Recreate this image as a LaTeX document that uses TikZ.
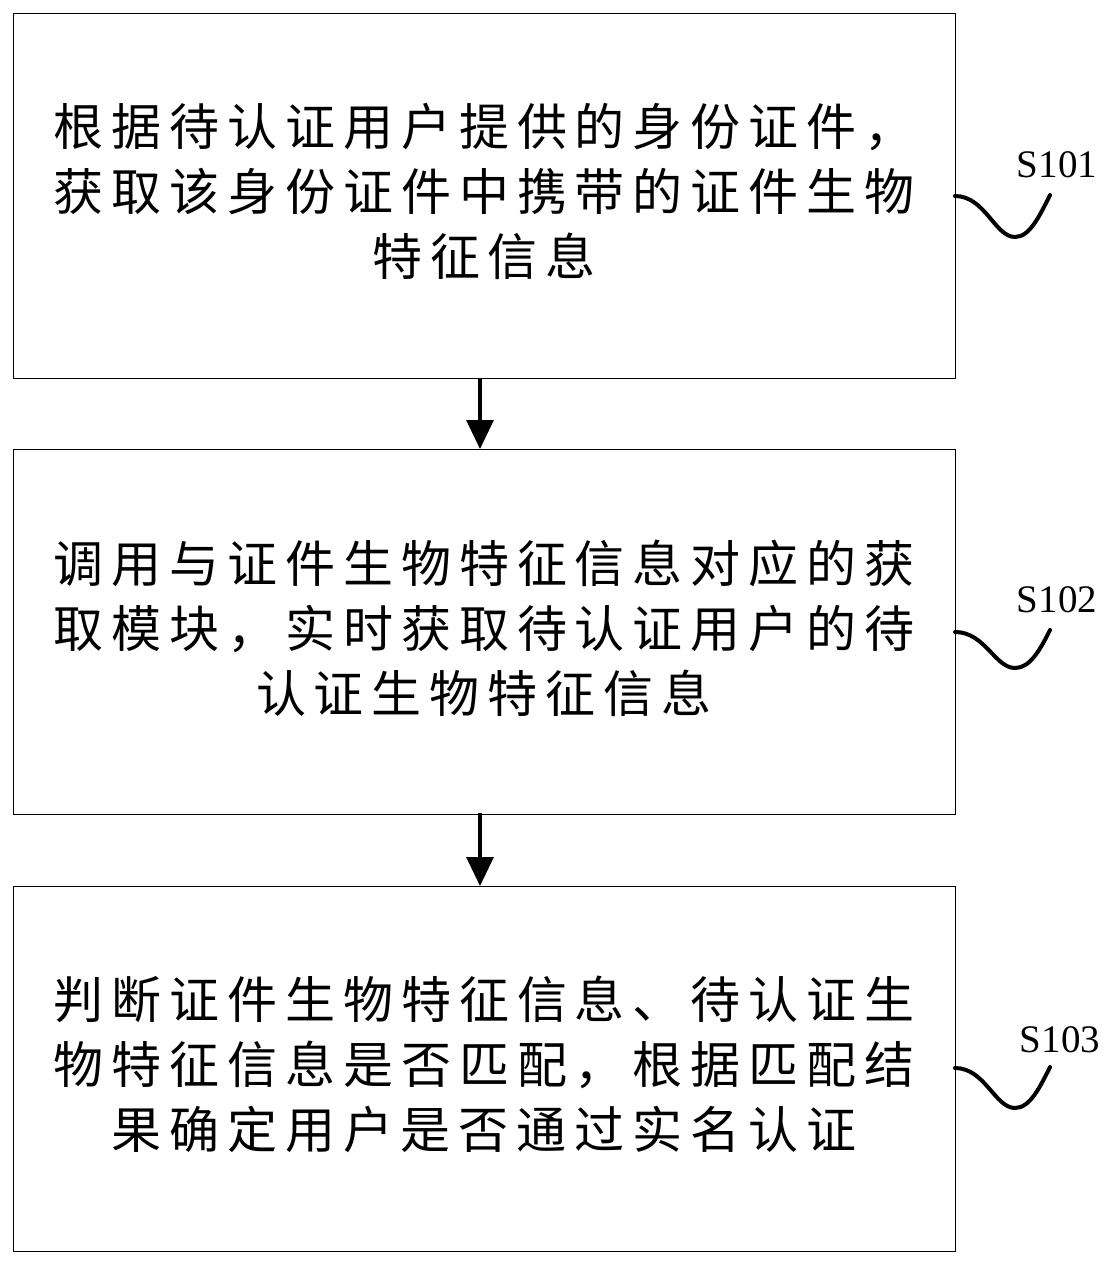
\documentclass[tikz,border=0pt]{standalone}
\usepackage{fontspec}
\setmainfont{Liberation Serif}
\newfontfamily\cjk[LetterSpace=16]{Noto Sans CJK SC}
\usetikzlibrary{arrows.meta}
\tikzset{
  stepbox/.style={draw=black, line width=1.3pt, minimum width=942pt, minimum height=365pt, inner sep=0pt, anchor=north west},
  steptext/.style={align=center, font=\cjk\fontsize{50}{65}\selectfont, inner sep=0pt},
  flow/.style={line width=3.2pt, -{Triangle[width=27pt,length=29pt]}},
  squig/.style={line width=4pt, line cap=round},
  lbl/.style={font=\fontsize{39}{42}\selectfont, inner sep=0pt}
}
\begin{document}
\begin{tikzpicture}[x=1pt,y=-1pt]
\useasboundingbox (0,0) rectangle (1116,1264);
\node[stepbox] (b1) at (13,13) {};
\node[stepbox] (b2) at (13,449) {};
\node[stepbox] (b3) at (13,886) {};
\node[steptext] (t1) at (484,191) {根据待认证用户提供的身份证件，\\获取该身份证件中携带的证件生物\\特征信息};
\node[steptext] (t2) at (484,628) {调用与证件生物特征信息对应的获\\取模块，实时获取待认证用户的待\\认证生物特征信息};
\node[steptext] (t3) at (484,1064) {判断证件生物特征信息、待认证生\\物特征信息是否匹配，根据匹配结\\果确定用户是否通过实名认证};
\coordinate (a1s) at (480,378);
\coordinate (a1e) at (480,449);
\coordinate (a2s) at (480,813);
\coordinate (a2e) at (480,886);
\draw[flow] (a1s) -- (a1e);
\draw[flow] (a2s) -- (a2e);
\node[lbl] (l1) at (1057,165) {S101};
\node[lbl] (l2) at (1057,600) {S102};
\node[lbl] (l3) at (1060,1040) {S103};
\draw[squig] (955,196) .. controls (985,196) and (995,237) .. (1015,237) .. controls (1030,237) and (1040,215) .. (1050,195);
\draw[squig] (955,632) .. controls (985,632) and (995,668) .. (1015,668) .. controls (1030,668) and (1040,650) .. (1050,630);
\draw[squig] (955,1068) .. controls (985,1068) and (995,1108) .. (1015,1108) .. controls (1030,1108) and (1040,1087) .. (1050,1067);
\end{tikzpicture}
\end{document}
